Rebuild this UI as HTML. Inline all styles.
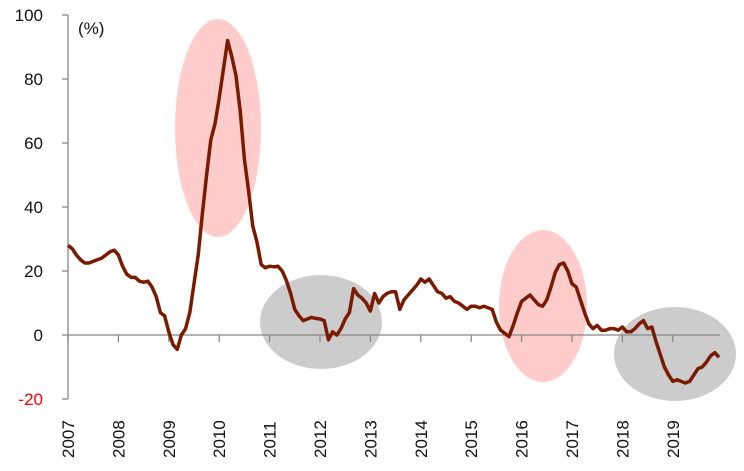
<!DOCTYPE html>
<html><head><meta charset="utf-8"><style>
html,body{margin:0;padding:0;background:#fff}
svg{display:block;font-family:"Liberation Sans",Arial,sans-serif}
</style></head><body>
<svg id="chart" width="744" height="471" viewBox="0 0 744 471"></svg>
<script>
const years=["2007","2008","2009","2010","2011","2012","2013","2014","2015","2016","2017","2018","2019"];
const yTicks=[100,80,60,40,20,0,-20];
const values=[
28,27,25,23.5,22.5,22.5,23,23.5,24,25,26,26.5,
25,21.5,19,18,18,16.8,16.5,16.8,15,12,7,6,
1,-3,-4.5,0,2,7,16,25,38,50,61,66,
74,83,92,87,81,70,55,45,34,29,22,21,
21.5,21.3,21.5,20,17,13,8,6,4.5,5,5.5,5.2,
5,4.5,-1.5,1,0,2,5,7,14.5,12.5,11.5,10,
7.5,13,10,12,13,13.5,13.5,8,11,12.5,14,15.5,
17.5,16.5,17.5,15.5,13.5,13,11.5,12,10.5,10,9,8,
9,9,8.5,9,8.5,8,4,1.5,0.5,-0.5,3,7,
10.5,11.5,12.5,11,9.5,9,11,15,19.5,22,22.5,20,
16,15,11,7,3.5,2,3,1.5,1.5,2,2,1.5,
2.5,1,1,2,3.5,4.5,2,2.5,-2,-6,-10,-12.5,
-14.5,-14,-14.5,-15,-14.5,-12.5,-10.5,-10,-8.5,-6.5,-5.5,-7
];
const ns="http://www.w3.org/2000/svg";
const svg=document.getElementById('chart');
const x0=68,yearW=50.4,xEnd=720;
const X=m=>x0+m*yearW/12;
const Y=v=>335-v*3.2;
function el(t,a,p){const e=document.createElementNS(ns,t);for(const k in a)e.setAttribute(k,a[k]);(p||svg).appendChild(e);return e;}
// highlight ellipses
const ells=[[218,128,43,109,"#ffcccc","highlight-2010-peak"],[321,322,61,47,"#cccccc","highlight-2012-trough"],[543,306,44,76,"#ffcccc","highlight-2016-peak"],[675,354,61,47,"#cccccc","highlight-2019-trough"]];
ells.forEach(e=>{const n=el('ellipse',{cx:e[0],cy:e[1],rx:e[2],ry:e[3],fill:e[4]});

});
// y axis
const ya=el('line',{x1:x0,y1:Y(100),x2:x0,y2:Y(-20),stroke:'#888','stroke-width':1.3});


yTicks.forEach(v=>{el('line',{x1:x0-6,y1:Y(v),x2:x0,y2:Y(v),stroke:'#888','stroke-width':1.3});
const t=el('text',{x:43,y:Y(v)+6,'text-anchor':'end','font-size':17,fill:v<0?'#ff0000':'#111'});t.textContent=v;

});
// x axis
const xa=el('line',{x1:x0,y1:Y(0),x2:xEnd,y2:Y(0),stroke:'#888','stroke-width':1.3});


years.forEach((yr,i)=>{const xx=X(i*12);
el('line',{x1:xx,y1:Y(0),x2:xx,y2:Y(0)+7,stroke:'#888','stroke-width':1.3});
const t=el('text',{transform:`translate(${xx+6},458) rotate(-90)`,'font-size':17,fill:'#111'});t.textContent=yr;

});
const u=el('text',{x:78,y:34,'font-size':17,fill:'#111'});u.textContent='(%)';


// line
const d=values.map((v,i)=>(i?'L':'M')+X(i).toFixed(1)+','+Y(v).toFixed(1)).join(' ');
const p=el('path',{d:d,fill:'none',stroke:'#7a1a00','stroke-width':3.5,'stroke-linejoin':'round'});


</script>
</body></html>
